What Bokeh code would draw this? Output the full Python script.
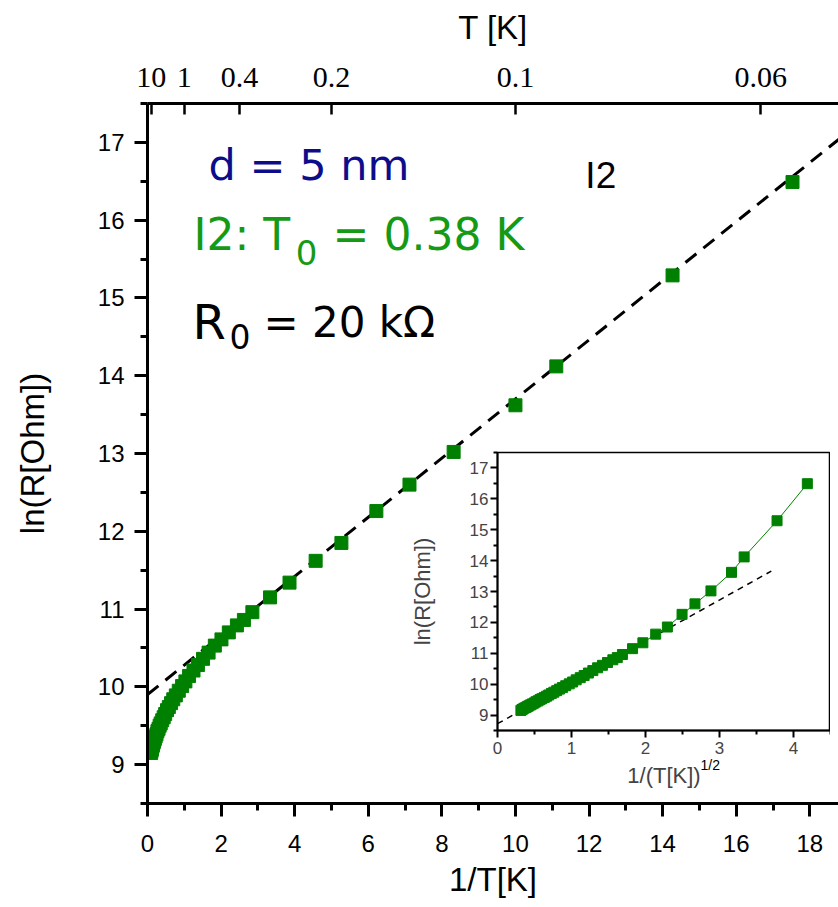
import numpy as np
from bokeh.plotting import figure
from bokeh.models import Range1d, LinearAxis, FixedTicker, Label, InlineStyleSheet
from bokeh.layouts import column
from bokeh.embed import file_html
from bokeh.resources import INLINE

# ---------------- data ----------------
inv_T = [0.10, 0.11, 0.12, 0.135, 0.15, 0.165, 0.18, 0.20, 0.22, 0.245, 0.27, 0.30,
         0.33, 0.36, 0.40, 0.44, 0.48, 0.53, 0.58, 0.64, 0.70, 0.77, 0.85, 0.94,
         1.03, 1.13, 1.25, 1.37, 1.51, 1.66, 1.83, 2.01, 2.21, 2.43, 2.62, 2.85,
         3.33, 3.86, 4.57, 5.27, 6.22, 7.12, 8.32, 10.0, 11.11, 14.27, 17.53]
lnR = [9.15, 9.18, 9.20, 9.23, 9.25, 9.28, 9.30, 9.33, 9.36, 9.39, 9.43, 9.46,
       9.50, 9.53, 9.57, 9.61, 9.65, 9.70, 9.74, 9.79, 9.84, 9.89, 9.95, 10.01,
       10.07, 10.14, 10.21, 10.28, 10.36, 10.44, 10.53, 10.61, 10.70, 10.79, 10.86, 10.96,
       11.15, 11.34, 11.62, 11.85, 12.26, 12.60, 13.02, 13.62, 14.12, 15.29, 16.49]

# inset abscissa: 1/(T[K])^(1/2)
inv_sqrtT = list(np.sqrt(np.array(inv_T)))

fit_main_x = [0.0, 19.0]          # ln R = ln(20 kOhm) + T0/T, T0 = 0.38 K
fit_main_y = [9.90, 17.12]
fit_inset_x = [0.0, 3.7]
fit_inset_y = [8.72, 13.66]

x_ticks = [0, 2, 4, 6, 8, 10, 12, 14, 16, 18]
x_minor = [1, 3, 5, 7, 9, 11, 13, 15, 17]
y_ticks = [9, 10, 11, 12, 13, 14, 15, 16, 17]
y_minor = [8.5, 9.5, 10.5, 11.5, 12.5, 13.5, 14.5, 15.5, 16.5, 17.5]
top_T_values = [10, 1, 0.4, 0.2, 0.1, 0.06]
top_T_labels = ["10", "1", "0.4", "0.2", "0.1", "0.06"]

ins_x_ticks = [0, 1, 2, 3, 4]
ins_x_minor = [0.5, 1.5, 2.5, 3.5, 4.5]
ins_y_ticks = [9, 10, 11, 12, 13, 14, 15, 16, 17]
ins_y_minor = [8.5, 9.5, 10.5, 11.5, 12.5, 13.5, 14.5, 15.5, 16.5, 17.5]

GREEN = "#008000"
SANS = "Liberation Sans"
HAND = "DejaVu Sans"

# ---------------- main figure ----------------
p = figure(width=838, height=907,
           x_range=Range1d(0, 18.78), y_range=Range1d(8.5, 17.5),
           min_border_left=147, min_border_right=0, min_border_top=103, min_border_bottom=104,
           toolbar_location=None, output_backend="svg")
p.outline_line_color = None
p.grid.visible = False
p.background_fill_color = "white"
p.border_fill_color = "white"

def style_axis(ax, size="24px", font=SANS):
    ax.axis_line_width = 3
    ax.axis_line_color = "black"
    ax.major_tick_line_width = 3
    ax.minor_tick_line_width = 3
    ax.major_tick_out = 13
    ax.major_tick_in = 0
    ax.minor_tick_out = 7
    ax.minor_tick_in = 0
    ax.major_label_text_font = font
    ax.major_label_text_font_size = size
    ax.major_label_text_color = "black"
    ax.axis_label_text_font = SANS
    ax.axis_label_text_font_size = "33px"
    ax.axis_label_text_font_style = "normal"
    ax.axis_label_text_color = "black"

p.xaxis.ticker = FixedTicker(ticks=x_ticks, minor_ticks=x_minor)
p.yaxis.ticker = FixedTicker(ticks=y_ticks, minor_ticks=y_minor)
p.xaxis.axis_label = "1/T[K]"
p.yaxis.axis_label = "ln(R[Ohm])"
style_axis(p.xaxis[0])
style_axis(p.yaxis[0])
p.xaxis.major_label_standoff = 18
p.xaxis.axis_label_standoff = 6
p.yaxis.major_label_standoff = 10
p.yaxis.axis_label_standoff = 44

top_pos = [1.0 / t for t in top_T_values]
top_axis = LinearAxis(ticker=FixedTicker(ticks=top_pos, minor_ticks=[]),
                      major_label_overrides={pos: lab for pos, lab in zip(top_pos, top_T_labels)},
                      axis_label="T [K]")
style_axis(top_axis, size="30px", font="Liberation Serif")
top_axis.major_tick_out = 0
top_axis.major_tick_in = 11
top_axis.major_tick_line_width = 2.5
top_axis.minor_tick_line_color = None
top_axis.major_label_standoff = 17
top_axis.axis_label_standoff = 19
p.add_layout(top_axis, "above")

p.line(fit_main_x, fit_main_y, line_color="black", line_width=3, line_dash="14 9")
p.scatter(inv_T, lnR, marker="square", size=13, fill_color=GREEN, line_color=GREEN)

def note(x, y, text, size, color, font=HAND):
    p.add_layout(Label(x=x, y=y, text=text, text_font=font, text_baseline="middle",
                       text_align="left", text_font_size=size, text_color=color))

BLUE_T = "#0d0d8c"
GREEN_T = "#149a14"
note(1.66, 16.71, "d = 5 nm", "43px", BLUE_T)
note(1.25, 15.82, "I2: T", "44px", GREEN_T)
note(4.03, 15.58, "0", "34px", GREEN_T)
note(5.03, 15.82, "= 0.38 K", "44px", GREEN_T)
note(1.22, 14.69, "R", "48px", "black")
note(2.23, 14.51, "0", "33px", "black")
note(3.15, 14.69, "= 20 k\u03a9", "42px", "black")
note(11.9, 16.58, "I2", "37px", "black", font=SANS)
# superscript of the inset's x-axis title (sits over the inset's transparent border)
note(15.03, 8.99, "1/2", "14px", "black", font=SANS)

# ---------------- inset figure ----------------
# inside a column, the inset frame is aligned with the main frame's left border (147 px)
q = figure(width=480, height=345,
           x_range=Range1d(0, 4.5), y_range=Range1d(8.5, 17.5),
           min_border_left=92, min_border_right=0, min_border_top=7, min_border_bottom=57,
           toolbar_location=None, output_backend="svg")
q.border_fill_color = None
q.background_fill_color = "white"
q.outline_line_color = "black"
q.outline_line_width = 1.5
q.grid.visible = False

for ax in (q.xaxis[0], q.yaxis[0]):
    ax.axis_line_width = 2
    ax.major_tick_line_width = 2
    ax.minor_tick_line_width = 2
    ax.major_tick_out = 7
    ax.major_tick_in = 0
    ax.minor_tick_out = 4
    ax.minor_tick_in = 0
    ax.major_label_text_font = SANS
    ax.major_label_text_font_size = "17px"
    ax.axis_label_text_font = SANS
    ax.axis_label_text_font_size = "22px"
    ax.axis_label_text_font_style = "normal"
q.xaxis.ticker = FixedTicker(ticks=ins_x_ticks, minor_ticks=ins_x_minor)
q.yaxis.ticker = FixedTicker(ticks=ins_y_ticks, minor_ticks=ins_y_minor)
q.xaxis.axis_label = "1/(T[K])"
q.yaxis.axis_label = "ln(R[Ohm])"
q.xaxis.major_label_standoff = 4
q.xaxis.axis_label_standoff = 6
q.yaxis.major_label_standoff = 2
q.yaxis.axis_label_standoff = 32

q.line(fit_inset_x, fit_inset_y, line_color="black", line_width=1.5, line_dash="6 5")
q.line(inv_sqrtT, lnR, line_color=GREEN, line_width=1)
q.scatter(inv_sqrtT, lnR, marker="square", size=10, fill_color=GREEN, line_color=GREEN)

q.stylesheets = [InlineStyleSheet(css=":host { position: absolute !important; left: 350px !important; top: 445px !important; }")]

layout = column(p, q)
open("out.html", "w").write(file_html(layout, INLINE))
